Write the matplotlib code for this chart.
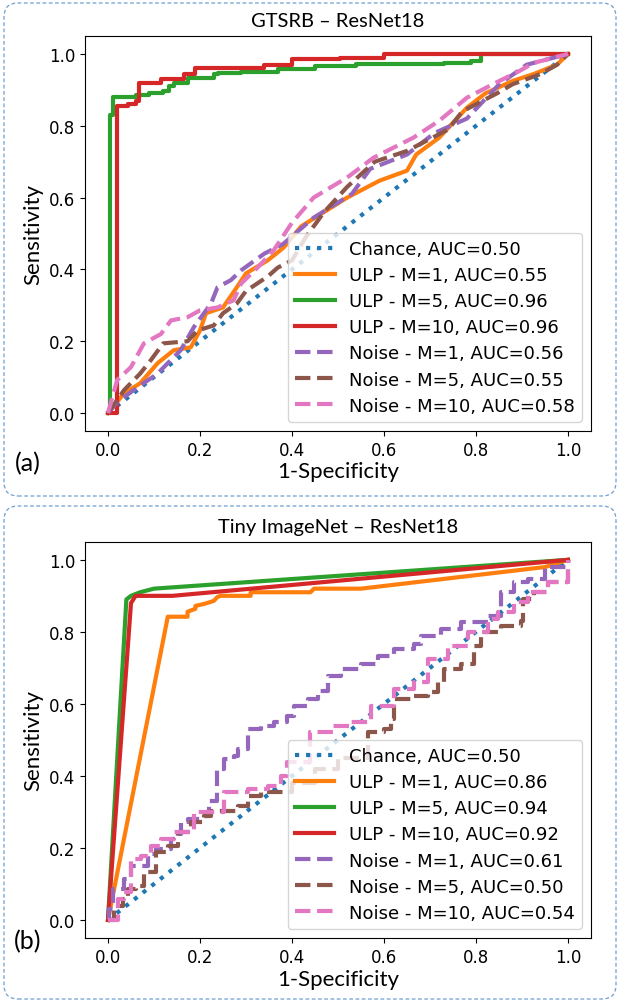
import matplotlib
matplotlib.use('Agg')
from matplotlib import pyplot as plt
from matplotlib.patches import FancyBboxPatch
from matplotlib.transforms import IdentityTransform

label_font = 'Lato'

# ---- panel (a): GTSRB - ResNet18 ----
chance_x = [0, 1]
chance_y = [0, 1]

a_ulp1_x = [0, 0.035, 0.07, 0.108, 0.143, 0.18, 0.2, 0.213, 0.25, 0.28, 0.30, 0.347, 0.382,
            0.42, 0.52, 0.59, 0.65, 0.67, 0.72, 0.78, 0.82, 0.88, 0.925, 0.976, 1.0]
a_ulp1_y = [0, 0.055, 0.083, 0.139, 0.175, 0.183, 0.23, 0.278, 0.294, 0.35, 0.389, 0.425, 0.461,
            0.52, 0.6, 0.647, 0.675, 0.72, 0.767, 0.85, 0.89, 0.925, 0.944, 0.97, 1.0]
a_ulp5_x = [0, 0.004, 0.01, 0.05, 0.06, 0.089, 0.12, 0.133, 0.143, 0.173, 0.23, 0.24, 0.29,
            0.37, 0.45, 0.54, 0.73, 0.79, 0.81, 1.0]
a_ulp5_y = [0, 0.83, 0.88, 0.88, 0.886, 0.89, 0.897, 0.91, 0.92, 0.933, 0.944, 0.947, 0.95,
            0.958, 0.966, 0.972, 0.975, 0.98, 1.0, 1.0]
a_ulp10_x = [0, 0.02, 0.043, 0.06, 0.068, 0.115, 0.165, 0.19, 0.34, 0.40, 0.505, 0.6, 1.0]
a_ulp10_y = [0, 0.855, 0.86, 0.87, 0.92, 0.93, 0.944, 0.961, 0.969, 0.986, 0.99, 1.0, 1.0]
a_noise1_x = [0, 0.02, 0.056, 0.108, 0.13, 0.158, 0.187, 0.224, 0.238, 0.267, 0.289, 0.34, 0.38,
              0.447, 0.53, 0.57, 0.65, 0.71, 0.78, 0.85, 0.91, 1.0]
a_noise1_y = [0, 0.03, 0.064, 0.11, 0.139, 0.175, 0.24, 0.305, 0.35, 0.37, 0.397, 0.444, 0.47,
              0.544, 0.61, 0.68, 0.72, 0.78, 0.82, 0.915, 0.97, 1.0]
a_noise5_x = [0, 0.035, 0.07, 0.093, 0.12, 0.173, 0.195, 0.23, 0.25, 0.28, 0.30, 0.347, 0.369,
              0.40, 0.43, 0.47, 0.52, 0.58, 0.65, 0.74, 0.77, 0.845, 0.88, 0.94, 0.976, 1.0]
a_noise5_y = [0, 0.064, 0.11, 0.147, 0.194, 0.2, 0.23, 0.244, 0.278, 0.305, 0.34, 0.38, 0.405,
              0.425, 0.49, 0.56, 0.63, 0.70, 0.73, 0.79, 0.84, 0.89, 0.916, 0.944, 0.97, 1.0]
a_noise10_x = [0, 0.02, 0.05, 0.078, 0.115, 0.137, 0.173, 0.2, 0.238, 0.273, 0.289, 0.325, 0.36,
               0.40, 0.447, 0.52, 0.577, 0.664, 0.72, 0.78, 0.837, 0.895, 0.925, 1.0]
a_noise10_y = [0, 0.092, 0.128, 0.194, 0.22, 0.258, 0.267, 0.286, 0.294, 0.314, 0.36, 0.405, 0.453,
               0.53, 0.6, 0.656, 0.711, 0.767, 0.814, 0.878, 0.916, 0.953, 0.975, 1.0]
a_auc = ['0.50', '0.55', '0.96', '0.96', '0.56', '0.55', '0.58']

# ---- panel (b): Tiny ImageNet - ResNet18 ----
b_ulp1_x = [0, 0.13, 0.173, 0.173, 0.19, 0.19, 0.21, 0.23, 0.238, 0.245, 0.31, 0.31, 0.44,
            0.448, 0.55, 0.73, 0.95, 1.0]
b_ulp1_y = [0, 0.842, 0.842, 0.856, 0.864, 0.872, 0.878, 0.886, 0.897, 0.9, 0.9, 0.91, 0.91,
            0.92, 0.92, 0.947, 0.98, 1.0]
b_ulp5_x = [0, 0.04, 0.05, 0.07, 0.1, 1.0]
b_ulp5_y = [0, 0.89, 0.9, 0.91, 0.92, 1.0]
b_ulp10_x = [0, 0.05, 0.06, 0.14, 1.0]
b_ulp10_y = [0, 0.88, 0.9, 0.9, 1.0]
b_noise1_x = [0, 0.003, 0.01, 0.035, 0.05, 0.075, 0.087, 0.104, 0.133, 0.137, 0.152, 0.158, 0.173,
              0.209, 0.22, 0.238, 0.252, 0.274, 0.283, 0.304, 0.333, 0.361, 0.39, 0.405, 0.435,
              0.457, 0.478, 0.507, 0.55, 0.587, 0.622, 0.665, 0.68, 0.724, 0.767, 0.826, 0.854,
              0.883, 0.913, 0.95, 1.0]
b_noise1_y = [0, 0.03, 0.086, 0.114, 0.15, 0.15, 0.183, 0.197, 0.197, 0.225, 0.239, 0.272, 0.28,
              0.289, 0.331, 0.42, 0.447, 0.456, 0.475, 0.53, 0.539, 0.55, 0.567, 0.594, 0.614,
              0.636, 0.678, 0.697, 0.711, 0.733, 0.753, 0.767, 0.789, 0.808, 0.828, 0.845, 0.911,
              0.939, 0.947, 0.98, 1.0]
b_noise5_x = [0, 0.013, 0.032, 0.043, 0.061, 0.078, 0.1, 0.104, 0.13, 0.152, 0.18, 0.209, 0.224,
              0.26, 0.283, 0.304, 0.333, 0.4, 0.45, 0.5, 0.565, 0.6, 0.615, 0.622, 0.665, 0.696,
              0.717, 0.73, 0.767, 0.796, 0.811, 0.854, 0.898, 0.902, 0.926, 0.957, 1.0]
b_noise5_y = [0, 0.039, 0.058, 0.086, 0.094, 0.133, 0.133, 0.189, 0.206, 0.244, 0.272, 0.289, 0.303,
              0.303, 0.317, 0.344, 0.355, 0.38, 0.42, 0.45, 0.522, 0.531, 0.558, 0.614, 0.622, 0.633,
              0.661, 0.697, 0.711, 0.761, 0.8, 0.817, 0.831, 0.892, 0.911, 0.939, 1.0]
b_noise10_x = [0, 0.022, 0.035, 0.05, 0.072, 0.093, 0.115, 0.143, 0.187, 0.252, 0.304, 0.348, 0.376,
               0.39, 0.44, 0.49, 0.528, 0.572, 0.622, 0.665, 0.696, 0.74, 0.783, 0.826, 0.848,
               0.883, 0.913, 0.957, 1.0]
b_noise10_y = [0, 0.058, 0.078, 0.169, 0.178, 0.206, 0.225, 0.244, 0.3, 0.355, 0.364, 0.372, 0.4,
               0.439, 0.522, 0.539, 0.55, 0.594, 0.642, 0.661, 0.725, 0.761, 0.8, 0.836, 0.856,
               0.883, 0.911, 0.939, 1.0]
b_auc = ['0.50', '0.86', '0.94', '0.92', '0.61', '0.50', '0.54']

names = ['Chance', 'ULP - M=1', 'ULP - M=5', 'ULP - M=10',
         'Noise - M=1', 'Noise - M=5', 'Noise - M=10']
colors = ['tab:blue', 'tab:orange', 'tab:green', 'tab:red',
          'tab:purple', 'tab:brown', 'tab:pink']
styles = [':', '-', '-', '-', '--', '--', '--']


def draw_panel(ax, curves, aucs, title, steps):
    for i, (xs, ys) in enumerate(curves):
        ds = 'steps-post' if steps[i] else 'default'
        ax.plot(xs, ys, color=colors[i], linestyle=styles[i], linewidth=3,
                drawstyle=ds, label=f'{names[i]}, AUC={aucs[i]}')
    ax.set_xlim(-0.05, 1.05)
    ax.set_ylim(-0.05, 1.05)
    ax.set_xticks([0, 0.2, 0.4, 0.6, 0.8, 1.0])
    ax.set_yticks([0, 0.2, 0.4, 0.6, 0.8, 1.0])
    ax.tick_params(labelsize=12)
    ax.set_title(title, fontsize=14.5, family=label_font, pad=7)
    ax.set_xlabel('1-Specificity', fontsize=16, family=label_font, labelpad=2)
    ax.set_ylabel('Sensitivity', fontsize=16, family=label_font, labelpad=4)
    ax.legend(loc='lower right', fontsize=13, handlelength=2.2, labelspacing=0.45)


fig = plt.figure(figsize=(6.19, 10.03), dpi=100)

ax1 = fig.add_axes([0.1373, 0.5693, 0.8175, 0.3938])
draw_panel(ax1,
           [(chance_x, chance_y), (a_ulp1_x, a_ulp1_y), (a_ulp5_x, a_ulp5_y),
            (a_ulp10_x, a_ulp10_y), (a_noise1_x, a_noise1_y), (a_noise5_x, a_noise5_y),
            (a_noise10_x, a_noise10_y)],
           a_auc, 'GTSRB – ResNet18',
           [False, False, True, True, False, False, False])

ax2 = fig.add_axes([0.1373, 0.0638, 0.8175, 0.395])
draw_panel(ax2,
           [(chance_x, chance_y), (b_ulp1_x, b_ulp1_y), (b_ulp5_x, b_ulp5_y),
            (b_ulp10_x, b_ulp10_y), (b_noise1_x, b_noise1_y), (b_noise5_x, b_noise5_y),
            (b_noise10_x, b_noise10_y)],
           b_auc, 'Tiny ImageNet – ResNet18',
           [False, False, False, False, True, True, True])

fig.text(28 / 619, 1 - 464 / 1003, '(a)', ha='center', va='center', fontsize=18, family=label_font)
fig.text(28 / 619, 1 - 942 / 1003, '(b)', ha='center', va='center', fontsize=18, family=label_font)

# dashed rounded frames around each panel (pixel coords)
for y0 in [506, 3]:
    box = FancyBboxPatch((4, y0), 612, 493, boxstyle='round,pad=0,rounding_size=14',
                         transform=IdentityTransform(), fill=False,
                         edgecolor='#6f9fd0', linewidth=0.9, linestyle=(0, (3, 2)))
    fig.patches.append(box)

fig.savefig('out.png', dpi=100)
